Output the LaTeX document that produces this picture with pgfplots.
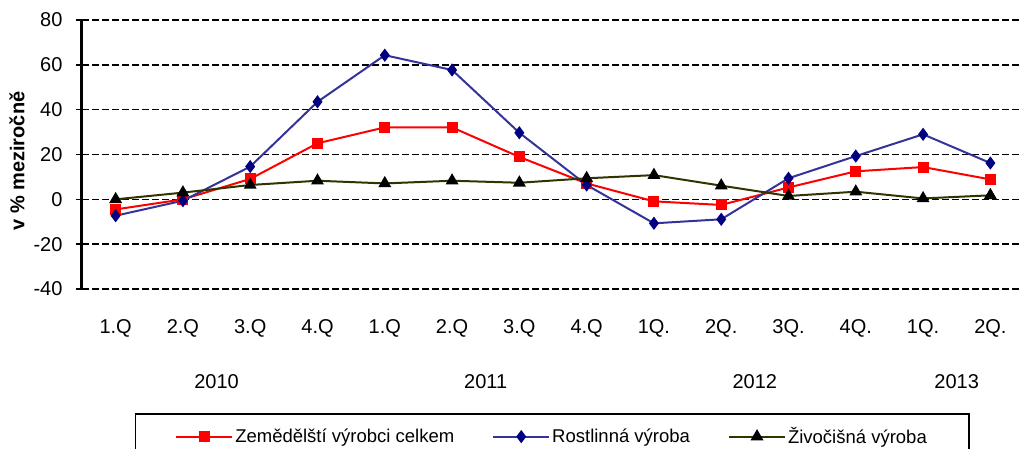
\documentclass[border=0pt]{standalone}
\usepackage{pgfplots}
\pgfplotsset{compat=1.18}
\usepackage{fontspec}
\setmainfont{Liberation Sans}
\definecolor{myred}{HTML}{FF0000}
\definecolor{myblueline}{HTML}{333399}
\definecolor{mynavy}{HTML}{000080}
\definecolor{myolive}{HTML}{333300}
\begin{document}
\begin{tikzpicture}
\path[use as bounding box] (-82pt,-159pt) rectangle (940pt,289pt);
\begin{axis}[
  at={(0pt,0pt)}, anchor=south west,
  scale only axis, width=942pt, height=269pt,
  xmin=-0.5, xmax=13.5, ymin=-40, ymax=80,
  clip=false,
  xtick={0,...,13},
  xticklabels={1.Q,2.Q,3.Q,4.Q,1.Q,2.Q,3.Q,4.Q,1Q.,2Q.,3Q.,4Q.,1Q.,2Q.},
  ytick={-40,-20,...,80},
  axis lines*=left,
  axis line style={black, line width=3pt},
  x axis line style={draw=none},
  x tick style={draw=none},
  y tick style={black, line width=1.5pt},
  major tick length=6pt,
  tick align=outside,
  ymajorgrids,
  grid style={black, line width=1.6pt, dash pattern=on 7pt off 3pt},
  /pgf/number format/assume math mode=true,
  tick label style={font=\fontsize{20}{24}\selectfont},
  yticklabel style={xshift=-10pt},
  xticklabel style={anchor=center, yshift=-33pt},
  legend style={at={(0.499,-0.461)}, anchor=north, legend columns=3,
    draw=black, line width=1.5pt, inner xsep=40pt, inner ysep=12pt,
    font=\fontsize{18.5}{22}\selectfont,
    /tikz/every even column/.append style={column sep=36pt}},
  legend cell align=left,
  legend image code/.code={\draw[mark repeat=2,mark phase=2,#1] plot coordinates {(0pt,0pt) (28pt,0pt) (56pt,0pt)};},
]
\draw[black, line width=3pt] (rel axis cs:0,0) -- (rel axis cs:0,1);
\addplot[myred, line width=2pt, mark=square*, mark size=4.5pt, mark options={solid, fill=myred, draw=myred}]
 coordinates {(0,-4.5) (1,0) (2,9.1) (3,25) (4,32.1) (5,32.1) (6,18.9) (7,7.1) (8,-0.9) (9,-2.5) (10,5.3) (11,12.5) (12,14.4) (13,8.9)};
\addlegendentry{Zemědělští výrobci celkem}
\addplot[myblueline, line width=2pt, mark=diamond*, mark size=5pt, mark options={solid, fill=mynavy, draw=mynavy}]
 coordinates {(0,-7.3) (1,-0.6) (2,14.6) (3,43.5) (4,64.3) (5,57.7) (6,29.7) (7,6.4) (8,-10.7) (9,-8.9) (10,9.4) (11,19.3) (12,29) (13,16.2)};
\addlegendentry{Rostlinná výroba}
\addplot[myolive, line width=2pt, mark=triangle*, mark size=5.5pt, mark options={solid, fill=black, draw=black}]
 coordinates {(0,0) (1,3) (2,6.4) (3,8.3) (4,7.1) (5,8.3) (6,7.4) (7,9.4) (8,10.8) (9,6.1) (10,1.5) (11,3.4) (12,0.4) (13,1.8)};
\addlegendentry{Živočišná výroba}
\node[font=\fontsize{20}{24}\selectfont, yshift=-93pt] at (axis cs:1.5,-40) {2010};
\node[font=\fontsize{20}{24}\selectfont, yshift=-93pt] at (axis cs:5.5,-40) {2011};
\node[font=\fontsize{20}{24}\selectfont, yshift=-93pt] at (axis cs:9.5,-40) {2012};
\node[font=\fontsize{20}{24}\selectfont, yshift=-93pt] at (axis cs:12.5,-40) {2013};
\end{axis}
\node[rotate=90, font=\bfseries\fontsize{20}{24}\selectfont] at (-65pt,128pt) {v \% meziročně};
\end{tikzpicture}
\end{document}
